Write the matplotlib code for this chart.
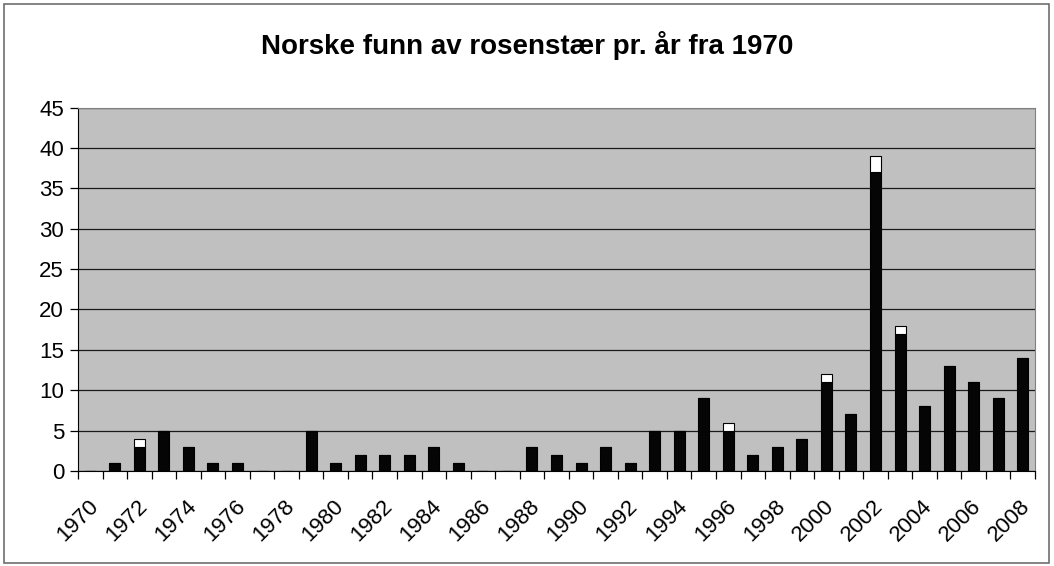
import numpy as np
import matplotlib
matplotlib.use("Agg")
import matplotlib.pyplot as plt
from matplotlib.patches import Rectangle

plt.rcParams['font.family'] = ['Liberation Sans', 'DejaVu Sans']

# data
years = list(range(1970, 2009))
black = [0, 1, 3, 5, 3, 1, 1, 0, 0, 5,
         1, 2, 2, 2, 3, 1, 0, 0, 3, 2,
         1, 3, 1, 5, 5, 9, 5, 2, 3, 4,
         11, 7, 37, 17, 8, 13, 11, 9, 14]
white = [0, 0, 1, 0, 0, 0, 0, 0, 0, 0,
         0, 0, 0, 0, 0, 0, 0, 0, 0, 0,
         0, 0, 0, 0, 0, 0, 1, 0, 0, 0,
         1, 0, 2, 1, 0, 0, 0, 0, 0]
yticks = list(range(0, 50, 5))

W, H = 1054, 566
fig = plt.figure(figsize=(W / 100, H / 100), dpi=100)
fig.patch.set_facecolor('white')
# outer chart border
fig.patches.append(Rectangle((4 / W, 3 / H), 1045 / W, 559 / H, transform=fig.transFigure,
                             fill=False, edgecolor='#6e6e6e', linewidth=1.2))

ax = fig.add_axes([78 / W, 1 - 471 / H, (1035 - 78) / W, (471 - 107.5) / H])
ax.set_facecolor('#c0c0c0')

x = np.arange(len(years))
ax.bar(x, black, width=0.45, color='#050505', edgecolor='#000000', linewidth=0.8, zorder=3)
ax.bar(x, white, width=0.45, bottom=black, color='white', edgecolor='#000000', linewidth=0.8, zorder=3)

ax.set_xlim(-0.5, len(years) - 0.5)
ax.set_ylim(0, 45)
ax.set_yticks(yticks)
ax.set_yticklabels([str(v) for v in yticks], fontsize=16)
ax.yaxis.grid(True, color='#1a1a1a', linewidth=0.9, zorder=1)
ax.tick_params(axis='y', length=6, width=0.9, pad=4, color='black')

# x ticks at category edges, labels every second year
ax.set_xticks(np.arange(-0.5, len(years), 1.0))
ax.set_xticklabels([])
ax.tick_params(axis='x', length=6, width=0.9, color='black')
for i, yr in enumerate(years):
    if yr % 2 == 0:
        ax.annotate(str(yr), xy=(i, 0), xycoords=('data', 'axes fraction'),
                    xytext=(-2, -18), textcoords='offset points',
                    rotation=45, ha='right', va='top', rotation_mode='anchor',
                    fontsize=16)

for side in ['top', 'right']:
    ax.spines[side].set_color('#808080')
ax.spines['left'].set_color('black')
ax.spines['bottom'].set_color('black')

fig.text(0.5, 1 - 45 / H, 'Norske funn av rosenstær pr. år fra 1970',
         ha='center', va='center', fontsize=20, fontweight='bold')

fig.savefig('out.png', dpi=100)
